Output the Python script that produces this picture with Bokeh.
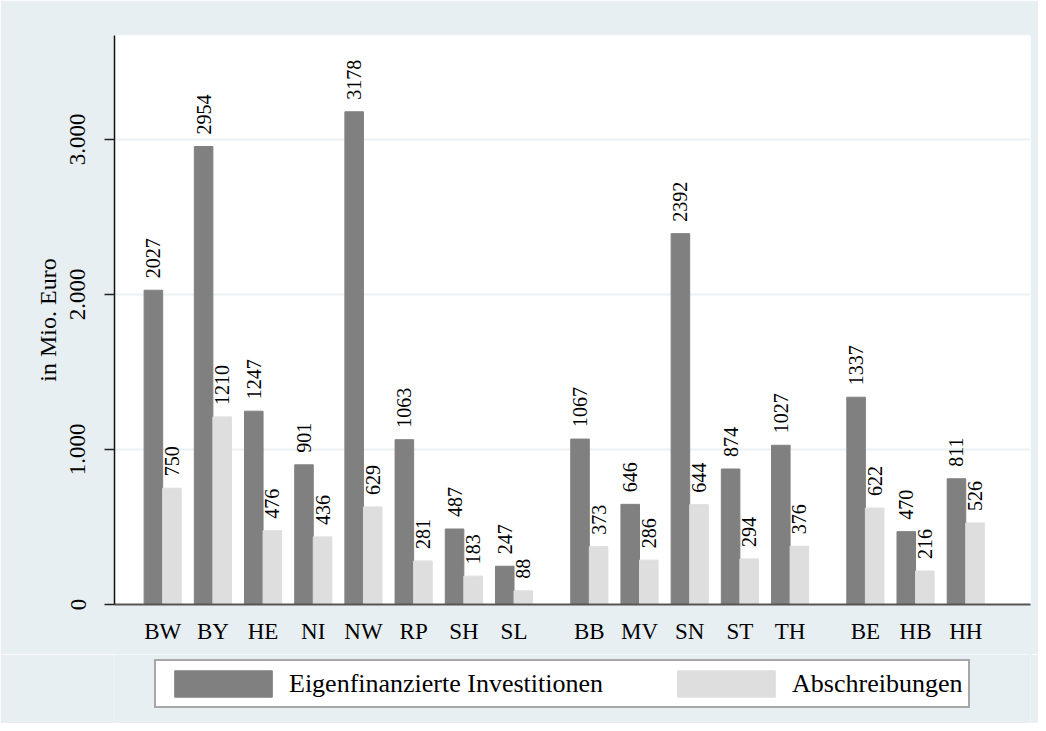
import math
from bokeh.plotting import figure
from bokeh.layouts import column
from bokeh.models import Range1d, FixedTicker, Legend, LegendItem, ColumnDataSource
from bokeh.transform import dodge
from bokeh.core.properties import value
from bokeh.embed import file_html
from bokeh.resources import INLINE

# ---- data ----
west = ["BW", "BY", "HE", "NI", "NW", "RP", "SH", "SL"]
east = ["BB", "MV", "SN", "ST", "TH"]
city = ["BE", "HB", "HH"]
invest = [2027, 2954, 1247, 901, 3178, 1063, 487, 247,
          1067, 646, 2392, 874, 1027,
          1337, 470, 811]
abschreibungen = [750, 1210, 476, 436, 629, 281, 183, 88,
                  373, 286, 644, 294, 376,
                  622, 216, 526]
series_names = ["Eigenfinanzierte Investitionen", "Abschreibungen"]
y_ticks = [0, 1000, 2000, 3000]
y_tick_labels = ["0", "1.000", "2.000", "3.000"]
axis_title = "in Mio. Euro"

# ---- category positions (groups separated by half a slot) ----
states, pos = [], []
x = 0.0
for grp in (west, east, city):
    for s in grp:
        states.append(s)
        pos.append(x)
        x += 1.0
    x += 0.5

src = ColumnDataSource(dict(
    pos=pos, state=states, inv=invest, ab=abschreibungen,
    inv_txt=[str(v) for v in invest], ab_txt=[str(v) for v in abschreibungen],
))

FONT = "Liberation Serif"
DARK = "#808080"
LIGHT = "#DEDEDE"
BG = "#E8EFF2"

p = figure(frame_width=916, frame_height=569,
           x_range=Range1d(-0.96, 17.29), y_range=Range1d(0, 3670),
           output_backend="svg", toolbar_location=None,
           min_border_left=114, min_border_right=8,
           min_border_top=35, min_border_bottom=50,
           background_fill_color="white", border_fill_color=BG,
           outline_line_color=None)

bw = 0.37
r1 = p.vbar(x=dodge("pos", -bw / 2, range=p.x_range), top="inv", width=bw,
            source=src, fill_color=DARK, line_color=DARK)
r2 = p.vbar(x=dodge("pos", bw / 2, range=p.x_range), top="ab", width=bw,
            source=src, fill_color=LIGHT, line_color=LIGHT)

lab_kw = dict(angle=math.pi / 2, text_align="left", text_baseline="middle",
              y_offset=-12, text_font=value(FONT), text_font_size="20px",
              text_color="black", source=src)
p.text(x=dodge("pos", -bw / 2, range=p.x_range), y="inv", text="inv_txt", **lab_kw)
p.text(x=dodge("pos", bw / 2, range=p.x_range), y="ab", text="ab_txt", **lab_kw)

# ---- axes ----
xa = p.xaxis[0]
xa.ticker = FixedTicker(ticks=pos)
xa.major_label_overrides = {pp: s for pp, s in zip(pos, states)}
xa.major_tick_out = 0
xa.major_tick_in = 0
xa.minor_tick_out = 0
xa.minor_tick_in = 0
xa.axis_line_color = "#555555"
xa.axis_line_width = 2
xa.major_label_text_font = FONT
xa.major_label_text_font_size = "23px"
xa.major_label_text_color = "black"
xa.major_label_standoff = 14

ya = p.yaxis[0]
ya.ticker = FixedTicker(ticks=y_ticks)
ya.major_label_overrides = {v: l for v, l in zip(y_ticks, y_tick_labels)}
ya.major_label_orientation = "parallel"
ya.major_tick_out = 10
ya.major_tick_in = 0
ya.minor_tick_out = 0
ya.minor_tick_in = 0
ya.major_tick_line_color = "#222222"
ya.major_tick_line_width = 1.5
ya.axis_line_color = "#111111"
ya.axis_line_width = 1.5
ya.major_label_text_font = FONT
ya.major_label_text_font_size = "23px"
ya.major_label_text_color = "black"
ya.major_label_standoff = 19
ya.axis_label = axis_title
ya.axis_label_text_font = FONT
ya.axis_label_text_font_size = "24px"
ya.axis_label_text_font_style = "normal"
ya.axis_label_text_color = "black"
ya.axis_label_standoff = 7

p.xgrid.visible = False
p.ygrid.grid_line_color = "#EAF2F3"
p.ygrid.grid_line_width = 2

# ---- legend strip below the chart (frames are aligned with the chart) ----
p2 = figure(width=1038, height=69, x_range=Range1d(-100, -99), y_range=Range1d(-100, -99),
            output_backend="svg", toolbar_location=None,
            x_axis_type=None, y_axis_type=None,
            min_border_left=0, min_border_right=0,
            min_border_top=0, min_border_bottom=0,
            background_fill_color=BG, border_fill_color=BG,
            outline_line_color=None)
p2.xgrid.visible = False
p2.ygrid.visible = False
k1 = p2.vbar(x="pos", top="inv", width=bw, source=src,
             fill_color=DARK, line_color=DARK)
k2 = p2.vbar(x="pos", top="ab", width=bw, source=src,
             fill_color=LIGHT, line_color=LIGHT)

legend = Legend(items=[LegendItem(label=series_names[0], renderers=[k1]),
                       LegendItem(label=series_names[1], renderers=[k2])],
                orientation="horizontal", location=(40, 15),
                border_line_color="#505050", border_line_width=2,
                background_fill_color="white", background_fill_alpha=1.0,
                label_text_font=FONT, label_text_font_size="26px",
                label_text_color="black",
                glyph_width=122, glyph_height=33, label_standoff=5,
                spacing=62, padding=6, margin=0)
p2.add_layout(legend, "center")

layout = column(p, p2, spacing=0)
open("out.html", "w").write(file_html(layout, INLINE))
